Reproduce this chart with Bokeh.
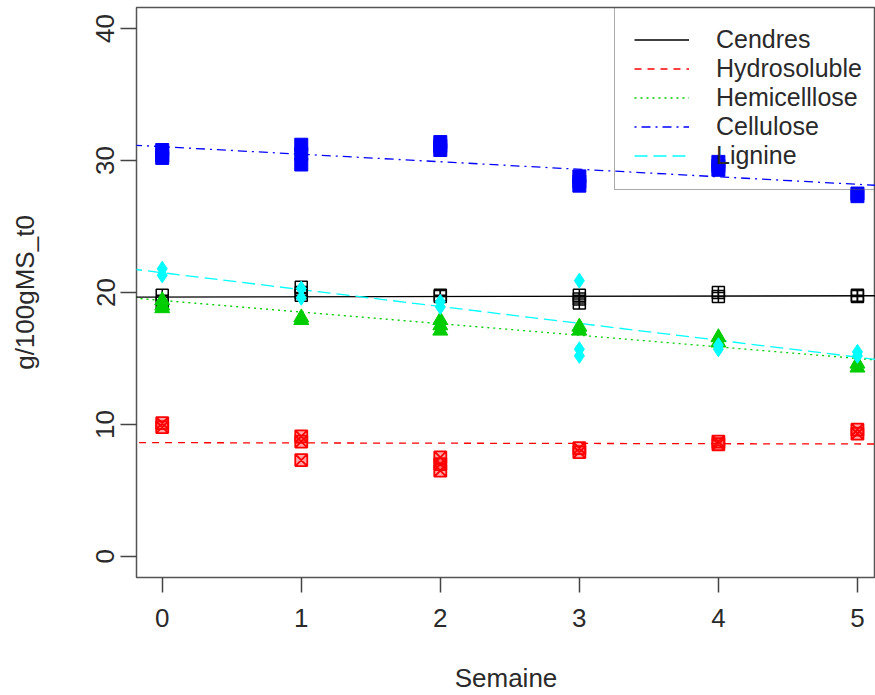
from bokeh.plotting import figure
from bokeh.models import Range1d, FixedTicker, Slope, Legend, LegendItem
from bokeh.embed import file_html
from bokeh.resources import INLINE

# ---- data ----
weeks_ticks = [0, 1, 2, 3, 4, 5]
y_ticks = [0, 10, 20, 30, 40]

cendres_x = [0, 0, 1, 1, 1, 2, 2, 3, 3, 3, 4, 4, 5, 5]
cendres_y = [19.8, 19.2, 20.4, 20.0, 19.8, 19.8, 19.7, 19.8, 19.5, 19.2, 20.0, 19.7, 19.8, 19.7]

hydro_x = [0, 0, 1, 1, 1, 2, 2, 2, 3, 3, 4, 4, 5, 5]
hydro_y = [10.1, 9.8, 9.1, 8.7, 7.3, 7.5, 7.0, 6.5, 8.2, 7.9, 8.7, 8.5, 9.6, 9.3]

hemi_x = [0, 0, 0, 1, 1, 2, 2, 2, 3, 3, 4, 4, 5, 5]
hemi_y = [19.4, 19.0, 18.8, 18.1, 17.9, 17.9, 17.5, 17.1, 17.4, 17.1, 16.6, 16.2, 14.6, 14.3]

cellu_x = [0, 0, 0, 1, 1, 1, 2, 2, 2, 3, 3, 3, 4, 4, 4, 5, 5]
cellu_y = [30.2, 30.4, 30.8, 29.7, 30.5, 31.2, 30.8, 31.1, 31.4, 28.1, 28.4, 28.8, 29.3, 29.6, 29.9, 27.3, 27.5]

lign_x = [0, 0, 1, 1, 2, 2, 3, 3, 3, 4, 4, 5, 5]
lign_y = [21.8, 21.3, 20.3, 19.6, 19.3, 18.9, 20.9, 15.7, 15.2, 16.0, 15.7, 15.5, 15.2]

series_names = ["Cendres", "Hydrosoluble", "Hemicelllose", "Cellulose", "Lignine"]
# regression lines (intercept, slope)
fit_intercepts = [19.65, 8.62, 19.40, 31.05, 21.50]
fit_slopes = [0.02, -0.02, -0.88, -0.57, -1.28]

# ---- styles ----
colors = ["#000000", "#FF0000", "#00CD00", "#0000FF", "#00FFFF"]
dashes = ["solid", "7 6", "2 4", "2 5 9 5", "13 6"]
FONT = "Liberation Sans"
FS = "26px"
TXT = "#2a2a2a"
NAN = float("nan")

p = figure(width=875, height=695,
           x_range=Range1d(-0.185, 5.13), y_range=Range1d(-1.6, 41.6),
           output_backend="svg", toolbar_location=None,
           min_border_left=136, min_border_right=0,
           min_border_top=7, min_border_bottom=118)

p.xgrid.visible = False
p.ygrid.visible = False
p.outline_line_color = "#555555"
p.outline_line_width = 1.5
p.background_fill_color = "white"
p.border_fill_color = "white"

for ax in (p.xaxis[0], p.yaxis[0]):
    ax.axis_line_color = None
    ax.major_tick_line_color = "#444444"
    ax.major_tick_line_width = 1.5
    ax.major_tick_in = 0
    ax.minor_tick_line_color = None
    ax.major_label_text_font = FONT
    ax.major_label_text_font_size = FS
    ax.major_label_text_color = TXT
    ax.axis_label_text_font = FONT
    ax.axis_label_text_font_size = FS
    ax.axis_label_text_font_style = "normal"
    ax.axis_label_text_color = TXT

p.xaxis.ticker = FixedTicker(ticks=weeks_ticks)
p.yaxis.ticker = FixedTicker(ticks=y_ticks)
p.xaxis.major_tick_out = 15
p.yaxis.major_tick_out = 16
p.xaxis.major_label_standoff = 16
p.yaxis.major_label_standoff = 6
p.yaxis.major_label_orientation = "vertical"
p.xaxis.axis_label = "Semaine"
p.yaxis.axis_label = "g/100gMS_t0"
p.xaxis.axis_label_standoff = 33
p.yaxis.axis_label_standoff = 54

# regression lines
for b, m, c, d in zip(fit_intercepts, fit_slopes, colors, dashes):
    p.add_layout(Slope(gradient=m, y_intercept=b, line_color=c,
                       line_dash=d, line_width=1.3, level="underlay"))

# points
p.scatter(cendres_x, cendres_y, marker="square_cross", size=12,
          fill_color=None, line_color=colors[0], line_width=1.5)
p.scatter(hydro_x, hydro_y, marker="square_x", size=12,
          fill_color=colors[1], fill_alpha=0.35, line_color=colors[1], line_width=1.8)
p.scatter(hemi_x, hemi_y, marker="triangle", size=15,
          fill_color=colors[2], line_color=colors[2])
p.scatter(cellu_x, cellu_y, marker="square", size=13,
          fill_color=colors[3], line_color=colors[3])
p.scatter(lign_x, lign_y, marker="diamond", size=15,
          fill_color=colors[4], line_color=colors[4])

# legend (line samples only; the renderers hold no visible points)
items = []
for name, c, d in zip(series_names, colors, dashes):
    r = p.line(x=[NAN], y=[NAN], line_color=c, line_dash=d, line_width=1.3)
    items.append(LegendItem(label=name, renderers=[r]))

legend = Legend(items=items, location=(478, 387),
                padding=19, spacing=0, margin=0,
                label_height=29, glyph_height=29, glyph_width=55,
                label_standoff=27,
                label_text_font=FONT, label_text_font_size="25px",
                label_text_color=TXT,
                border_line_color="#555555", border_line_width=1.5,
                background_fill_alpha=0.0)
p.add_layout(legend)

open("out.html", "w").write(file_html(p, INLINE))
